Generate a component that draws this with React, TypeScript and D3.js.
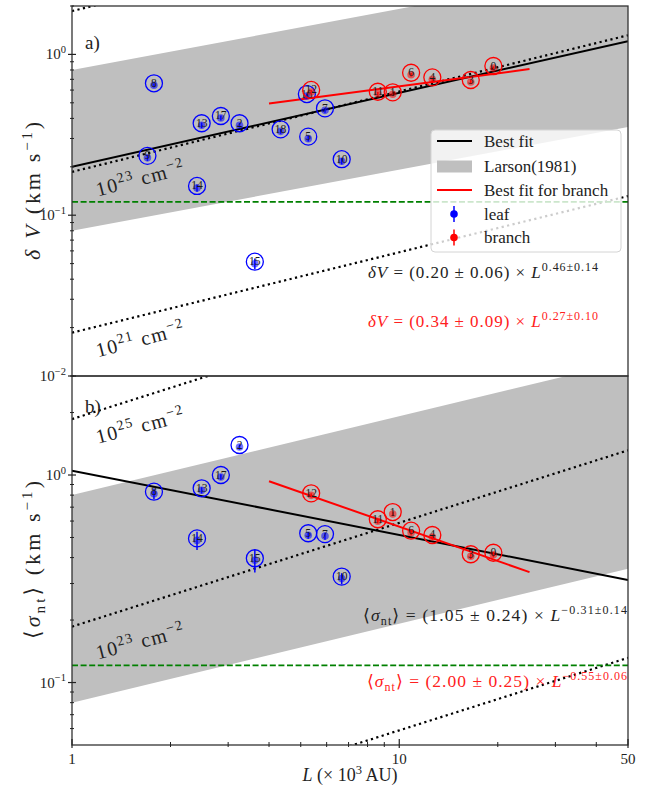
import * as d3 from 'd3';
import React from 'react';

// leaf structures
const leafIds = ['8', '9', '13', '17', '2', '18', '5', '7', '16', '10', '14', '15'];
const leafL = [1.78, 1.7, 2.49, 2.85, 3.25, 4.34, 5.27, 5.93, 5.22, 6.67, 2.41, 3.62];
const leafDV = [0.661, 0.234, 0.373, 0.414, 0.373, 0.342, 0.308, 0.462, 0.567, 0.223, 0.152, 0.0514];
const leafDVErr = [0.02, 0.01, 0.015, 0.015, 0.012, 0.012, 0.012, 0.015, 0.02, 0.01, 0.008, 0.004];
const leafSig = [0.831, null, 0.863, 1.0, 1.395, null, 0.524, 0.519, null, 0.324, 0.495, 0.397];
const leafSigErr = [0.05, null, 0.03, 0.03, 0.04, null, 0.02, 0.02, null, 0.02, 0.05, 0.05];

// branch structures
const branchIds = ['12', '11', '1', '6', '4', '3', '0'];
const branchL = [5.38, 8.6, 9.55, 10.87, 12.62, 16.54, 19.39];
const branchDV = [0.601, 0.586, 0.581, 0.769, 0.72, 0.693, 0.847];
const branchDVErr = [0.015, 0.015, 0.015, 0.02, 0.02, 0.02, 0.02];
const branchSig = [0.816, 0.612, 0.663, 0.539, 0.514, 0.415, 0.422];
const branchSigErr = [0.02, 0.015, 0.015, 0.015, 0.015, 0.012, 0.012];

// fits: [coef, slope]
const fitTop = [0.2, 0.46];
const fitTopBranch = [0.34, 0.27];
const fitBot = [1.05, -0.31];
const fitBotBranch = [2.0, -0.55];
const branchRange = [4, 25];

// Larson (1981) band and column density lines
const larson = { upper: 0.8, lower: 0.08, slope: 0.38 };
const colDensCoef = [0.0186, 0.186, 1.86];
const thermal = 0.121;

const font = '"Liberation Serif", "DejaVu Serif", serif';

const x = d3.scaleLog().domain([1, 50]).range([72, 628]);
const yTop = d3.scaleLog().domain([0.01, 2]).range([376, 6]);
const yBot = d3.scaleLog().domain([0.05, 3]).range([745, 376]);

const pl = (a: number, b: number) => (L: number) => a * Math.pow(L, b);

type Pt = { id: string; L: number; v: number; e: number };

const Marks: React.FC<{ pts: Pt[]; y: any; color: string }> = ({ pts, y, color }) => (
  <g>
    {pts.map((p, i) => {
      const cx = x(p.L);
      const cy = y(p.v);
      return (
        <g key={i}>
          <line x1={cx} x2={cx} y1={y(p.v - p.e) + 2} y2={y(p.v + p.e) + 2} stroke={color} strokeWidth={1.5} />
          <circle cx={cx} cy={cy + 2} r={3.8} fill={color} fillOpacity={0.55} />
          <circle cx={cx} cy={cy} r={8.5} fill="none" stroke={color} strokeWidth={1.3} />
          <text x={cx} y={cy + 3.5} textAnchor="middle" fontSize={11.5} fill="#1a1a1a" fontFamily={font}>
            {p.id}
          </text>
        </g>
      );
    })}
  </g>
);

const Panel: React.FC<{
  y: any;
  top: number;
  bottom: number;
  id: string;
  leaf: Pt[];
  branch: Pt[];
  fit: number[];
  fitB: number[];
}> = ({ y, top, bottom, id, leaf, branch, fit, fitB }) => {
  const Ls = x.domain();
  const band = d3
    .area<number>()
    .x((L) => x(L))
    .y0((L) => y(pl(larson.lower, larson.slope)(L)))
    .y1((L) => y(pl(larson.upper, larson.slope)(L)));
  const line = (f: (L: number) => number, dom: number[]) =>
    d3
      .line<number>()
      .x((L) => x(L))
      .y((L) => y(f(L)))(dom) as string;
  return (
    <g>
      <defs>
        <clipPath id={id}>
          <rect x={72} y={top} width={556} height={bottom - top} />
        </clipPath>
      </defs>
      <g clipPath={`url(#${id})`}>
        <path d={band(Ls) as string} fill="#bfbfbf" />
        {colDensCoef.map((c, i) => (
          <path key={i} d={line(pl(c, 0.5), Ls)} fill="none" stroke="#000" strokeWidth={2.2} strokeDasharray="2.2,3.4" />
        ))}
        <line x1={72} x2={628} y1={y(thermal)} y2={y(thermal)} stroke="#008000" strokeWidth={1.6} strokeDasharray="6,2.6" />
        <path d={line(pl(fit[0], fit[1]), Ls)} fill="none" stroke="#000" strokeWidth={2} />
        <path d={line(pl(fitB[0], fitB[1]), branchRange)} fill="none" stroke="#ff0000" strokeWidth={2} />
        <Marks pts={leaf} y={y} color="#0000ff" />
        <Marks pts={branch} y={y} color="#ff0000" />
      </g>
    </g>
  );
};

const App: React.FC = () => {
  const leafTop: Pt[] = leafIds.map((id, i) => ({ id, L: leafL[i], v: leafDV[i], e: leafDVErr[i] }));
  const branchTop: Pt[] = branchIds.map((id, i) => ({ id, L: branchL[i], v: branchDV[i], e: branchDVErr[i] }));
  const leafBot: Pt[] = leafIds
    .map((id, i) => ({ id, L: leafL[i], v: leafSig[i] as number, e: leafSigErr[i] as number }))
    .filter((p) => p.v != null);
  const branchBot: Pt[] = branchIds.map((id, i) => ({ id, L: branchL[i], v: branchSig[i], e: branchSigErr[i] }));

  const minorX = [2, 3, 4, 5, 6, 7, 8, 9, 20, 30, 40];
  const minorTop = [0.02, 0.03, 0.04, 0.05, 0.06, 0.07, 0.08, 0.09, 0.2, 0.3, 0.4, 0.5, 0.6, 0.7, 0.8, 0.9, 2];
  const minorBot = [0.06, 0.07, 0.08, 0.09, 0.2, 0.3, 0.4, 0.5, 0.6, 0.7, 0.8, 0.9, 2, 3];
  const majTop = [
    [0.01, '\u22122'],
    [0.1, '\u22121'],
    [1, '0'],
  ];
  const majBot = [
    [0.1, '\u22121'],
    [1, '0'],
  ];
  const xLabels = [1, 10, 50];

  const yTicks = (y: any, minor: number[], major: any[]) => (
    <g>
      {minor.map((v, i) => (
        <line key={'m' + i} x1={70} x2={74} y1={y(v)} y2={y(v)} stroke="#222" strokeWidth={1} />
      ))}
      {major.map(([v, s]: any, i: number) => (
        <g key={'M' + i}>
          <line x1={68} x2={76} y1={y(v)} y2={y(v)} stroke="#222" strokeWidth={1.2} />
          <text x={66} y={y(v) + 5} textAnchor="end" fontSize={15} fontFamily={font} fill="#222">
            <tspan>10</tspan>
            <tspan dy={-6.5} fontSize={10.5}>
              {s}
            </tspan>
          </text>
        </g>
      ))}
    </g>
  );

  // column density annotations: [scale, coef, exponent, offset below line]
  const cdLabels: any[] = [
    [yTop, 0.186, '23', 31],
    [yTop, 0.0186, '21', 31],
    [yBot, 1.86, '25', 33],
    [yBot, 0.186, '23', 41],
  ];
  const L0 = 1.2;

  const rowY = [141, 166.5, 190, 214, 237.5];

  return (
    <div style={{ position: 'absolute', left: 0, top: 0 }}>
      <svg width={657} height={789} style={{ display: 'block', background: '#fff' }} fontFamily={font}>
        <Panel y={yTop} top={6} bottom={376} id="clipA" leaf={leafTop} branch={branchTop} fit={fitTop} fitB={fitTopBranch} />
        <Panel y={yBot} top={376} bottom={745} id="clipB" leaf={leafBot} branch={branchBot} fit={fitBot} fitB={fitBotBranch} />

        {cdLabels.map(([y, c, ex, off], i) => {
          const px = x(L0);
          const py = y(c * Math.sqrt(L0)) + off;
          return (
            <text key={i} x={px} y={py} fontSize={20} fill="#222" textLength={90} transform={`rotate(-14.5 ${px} ${py})`}>
              <tspan>10</tspan>
              <tspan dy={-8} fontSize={14}>
                {ex}
              </tspan>
              <tspan dy={8}> cm</tspan>
              <tspan dy={-8} fontSize={14}>
                {'\u22122'}
              </tspan>
            </text>
          );
        })}

        {/* panel labels */}
        <text x={85} y={49} fontSize={19} fill="#222">
          a)
        </text>
        <text x={85} y={413} fontSize={19} fill="#222">
          b)
        </text>

        {/* equations */}
        <text x={368} y={278} fontSize={17} fill="#222" textLength={230}>
          <tspan fontStyle="italic">δV</tspan>
          <tspan> = (0.20 ± 0.06) × </tspan>
          <tspan fontStyle="italic">L</tspan>
          <tspan dy={-7.5} fontSize={12}>
            0.46±0.14
          </tspan>
        </text>
        <text x={368} y={327} fontSize={17} fill="#ff2020" textLength={230}>
          <tspan fontStyle="italic">δV</tspan>
          <tspan> = (0.34 ± 0.09) × </tspan>
          <tspan fontStyle="italic">L</tspan>
          <tspan dy={-7.5} fontSize={12}>
            0.27±0.10
          </tspan>
        </text>
        <text x={363} y={621} fontSize={17.5} fill="#222" textLength={264}>
          <tspan>⟨</tspan>
          <tspan fontStyle="italic">σ</tspan>
          <tspan dy={4} fontSize={12}>
            nt
          </tspan>
          <tspan dy={-4}>⟩ = (1.05 ± 0.24) × </tspan>
          <tspan fontStyle="italic">L</tspan>
          <tspan dy={-7.5} fontSize={12}>
            −0.31±0.14
          </tspan>
        </text>
        <text x={367} y={687} fontSize={17.5} fill="#ff2020" textLength={260}>
          <tspan>⟨</tspan>
          <tspan fontStyle="italic">σ</tspan>
          <tspan dy={4} fontSize={12}>
            nt
          </tspan>
          <tspan dy={-4}>⟩ = (2.00 ± 0.25) × </tspan>
          <tspan fontStyle="italic">L</tspan>
          <tspan dy={-7.5} fontSize={12}>
            −0.55±0.06
          </tspan>
        </text>

        {/* axes frames */}
        <rect x={72} y={6} width={556} height={370} fill="none" stroke="#333" strokeWidth={1.3} />
        <rect x={72} y={376} width={556} height={369} fill="none" stroke="#333" strokeWidth={1.3} />
        {yTicks(yTop, minorTop, majTop)}
        {yTicks(yBot, minorBot, majBot)}
        {minorX.map((v, i) => (
          <line key={i} x1={x(v)} x2={x(v)} y1={742} y2={747} stroke="#222" strokeWidth={1} />
        ))}
        {xLabels.map((v, i) => (
          <g key={i}>
            <line x1={x(v)} x2={x(v)} y1={739} y2={748} stroke="#222" strokeWidth={1.2} />
            <text x={x(v)} y={764} textAnchor="middle" fontSize={15} fill="#222">
              {v}
            </text>
          </g>
        ))}

        {/* axis titles */}
        <text x={350} y={781} textAnchor="middle" fontSize={18} fill="#222">
          <tspan fontStyle="italic">L</tspan>
          <tspan> (× 10</tspan>
          <tspan dy={-7} fontSize={12.5}>
            3
          </tspan>
          <tspan dy={7}> AU)</tspan>
        </text>
        <text transform="translate(40,191) rotate(-90)" textAnchor="middle" fontSize={22} fill="#222" textLength={138}>
          <tspan fontStyle="italic">δ V</tspan>
          <tspan> (km s</tspan>
          <tspan dy={-8.5} fontSize={15}>
            −1
          </tspan>
          <tspan dy={8.5}>)</tspan>
        </text>
        <text transform="translate(40,560) rotate(-90)" textAnchor="middle" fontSize={22} fill="#222" textLength={158}>
          <tspan>⟨</tspan>
          <tspan fontStyle="italic">σ</tspan>
          <tspan dy={5} fontSize={15}>
            nt
          </tspan>
          <tspan dy={-5}>⟩ (km s</tspan>
          <tspan dy={-8.5} fontSize={15}>
            −1
          </tspan>
          <tspan dy={8.5}>)</tspan>
        </text>

        {/* legend */}
        <g>
          <rect x={431} y={130} width={190} height={122} rx={4} fill="#fff" fillOpacity={0.8} stroke="#d4d4d4" />
          <line x1={437} x2={472} y1={rowY[0]} y2={rowY[0]} stroke="#000" strokeWidth={2} />
          <rect x={437} y={rowY[1] - 6} width={35} height={12} fill="#bfbfbf" />
          <line x1={437} x2={472} y1={rowY[2]} y2={rowY[2]} stroke="#ff0000" strokeWidth={2} />
          <line x1={454} x2={454} y1={rowY[3] - 8} y2={rowY[3] + 8} stroke="#0000ff" strokeWidth={1.5} />
          <circle cx={454} cy={rowY[3]} r={3.8} fill="#0000ff" />
          <line x1={454} x2={454} y1={rowY[4] - 8} y2={rowY[4] + 8} stroke="#ff0000" strokeWidth={1.5} />
          <circle cx={454} cy={rowY[4]} r={3.8} fill="#ff0000" />
          {['Best fit', 'Larson(1981)', 'Best fit for branch', 'leaf', 'branch'].map((t, i) => (
            <text key={i} x={484} y={rowY[i] + 5.5} fontSize={17} fill="#222">
              {t}
            </text>
          ))}
        </g>
      </svg>
    </div>
  );
};

export default App;
